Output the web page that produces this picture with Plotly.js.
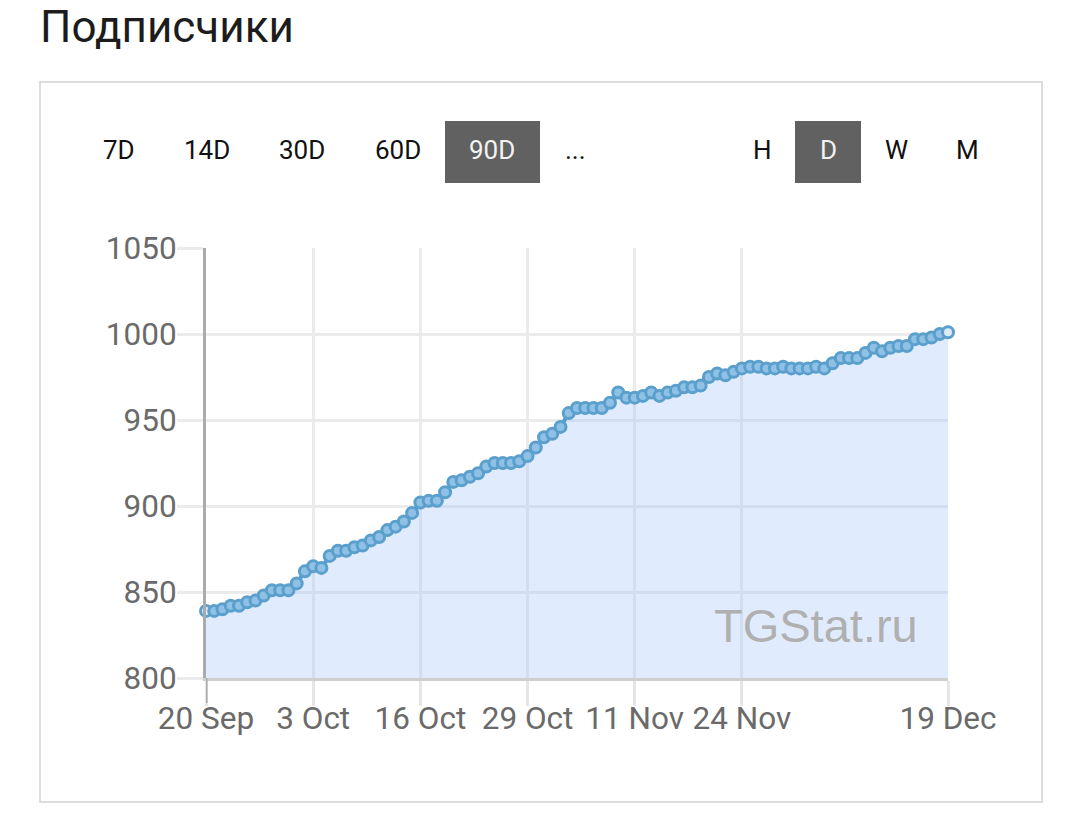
<!DOCTYPE html>
<html>
<head>
<meta charset="utf-8">
<script src="https://cdn.plot.ly/plotly-3.0.1.min.js"></script>
<style>html,body{margin:0;padding:0;background:#fff;overflow:hidden}#chart{width:1080px;height:830px}</style>
</head>
<body>
<div id="chart"></div>
<script>
const startDate = '2021-09-20';
const endDate = '2021-12-19';
const subscribers = [
  839,839,840,842,842,844,845,848,851,851,851,855,862,865,864,871,874,874,876,877,
  880,882,886,888,891,896,902,903,903,908,914,915,917,919,923,925,925,925,926,929,
  934,940,942,946,954,957,957,957,957,960,966,963,963,964,966,964,966,967,969,969,
  970,975,977,976,978,980,981,981,980,980,981,980,980,980,981,980,983,986,986,986,
  989,992,990,992,993,993,997,997,998,1000,1001
];
const xTickDates = ['2021-09-20','2021-10-03','2021-10-16','2021-10-29','2021-11-11','2021-11-24','2021-12-19'];
const xTickLabels = ['20 Sep','3 Oct','16 Oct','29 Oct','11 Nov','24 Nov','19 Dec'];
const yTicks = [800,850,900,950,1000,1050];
const titleText = 'Подписчики';
const watermark = 'TGStat.ru';
const rangeButtons = ['7D','14D','30D','60D','90D','...'];
const rangeCenters = [119,207,302,398,492,575];
const unitButtons = ['H','D','W','M'];
const unitCenters = [762,828,896,967];

const W = 1080, H = 830, L = 206, R = 948, T = 248, B = 678;
const px = x => (x - L) / (R - L);
const py = y => (B - y) / (B - T);
const note = (text, x, y, size, color, extra) => Object.assign({
  text, xref: 'paper', yref: 'paper', x: px(x), y: py(y), showarrow: false,
  xanchor: 'center', yanchor: 'middle', font: {family: 'Roboto', size, color}
}, extra || {});
const rect = (x0, y0, x1, y1, o) => Object.assign({
  type: 'rect', xref: 'paper', yref: 'paper', layer: 'below',
  x0: px(x0), x1: px(x1), y0: py(y0), y1: py(y1)
}, o);

const lastIdx = subscribers.length - 1;
const fillColors = subscribers.map((_, i) => (i === 0 || i === lastIdx) ? '#dcebf7' : '#8fc0e6');

const trace = {
  type: 'scatter', mode: 'lines+markers',
  x0: startDate, dx: 86400000, y: subscribers,
  fill: 'tozeroy', fillcolor: 'rgba(152,192,248,0.3)',
  line: {color: '#4f9bca', width: 4},
  marker: {size: 11, color: fillColors, line: {color: '#5b9fcc', width: 3}},
  cliponaxis: false, hoverinfo: 'x+y'
};

const tickFont = {family: 'Roboto', size: 31.5, color: '#6a6a6a'};
const layout = {
  width: W, height: H, paper_bgcolor: '#ffffff', plot_bgcolor: 'rgba(0,0,0,0)',
  showlegend: false,
  margin: {l: L, r: W - R, t: T, b: H - B, pad: 0},
  title: {text: titleText, xref: 'container', yref: 'container', x: 40 / W, xanchor: 'left',
          y: 1 - 27 / H, yanchor: 'middle', font: {family: 'Roboto', size: 44, color: '#1c1c1c'}},
  xaxis: {
    type: 'date', range: [startDate, endDate], tickmode: 'array',
    tickvals: xTickDates, ticktext: xTickLabels, tickangle: 0, tickfont: tickFont,
    ticklabelstandoff: -15,
    showgrid: true, gridcolor: '#ebebeb', gridwidth: 3,
    ticks: 'outside', ticklen: 25, tickwidth: 3, tickcolor: '#e6e6e6',
    showline: true, linecolor: '#cfcfcf', linewidth: 3, zeroline: false
  },
  yaxis: {
    range: [800, 1050], tickmode: 'array', tickvals: yTicks, tickfont: tickFont,
    ticklabelstandoff: -6,
    showgrid: true, gridcolor: '#ebebeb', gridwidth: 3,
    ticks: 'outside', ticklen: 26, tickwidth: 3, tickcolor: '#ebebeb',
    showline: true, linecolor: '#ababab', linewidth: 3, zeroline: false
  },
  shapes: [
    rect(40, 82, 1042, 802, {line: {color: '#dddddd', width: 2}, fillcolor: 'rgba(0,0,0,0)'}),
    rect(445, 121, 540, 183, {line: {width: 0}, fillcolor: '#616161'}),
    rect(795, 121, 861, 183, {line: {width: 0}, fillcolor: '#616161'}),
    {type: 'line', xref: 'x', yref: 'paper', x0: startDate, x1: startDate, y0: py(703), y1: 0,
     line: {color: '#ababab', width: 3}, layer: 'above'}
  ],
  annotations: [
    ...rangeButtons.map((t, i) => note(t, rangeCenters[i], 150, 26, t === '90D' ? '#f2f2f2' : '#111111')),
    ...unitButtons.map((t, i) => note(t, unitCenters[i], 150, 26, t === 'D' ? '#f2f2f2' : '#111111')),
    note(watermark, 816, 625, 47, '#a9a9a9', {font: {family: 'Liberation Sans', size: 47, color: '#b0b0b0'}})
  ]
};

Plotly.newPlot('chart', [trace], layout, {displayModeBar: false, staticPlot: true});
</script>
</body>
</html>
